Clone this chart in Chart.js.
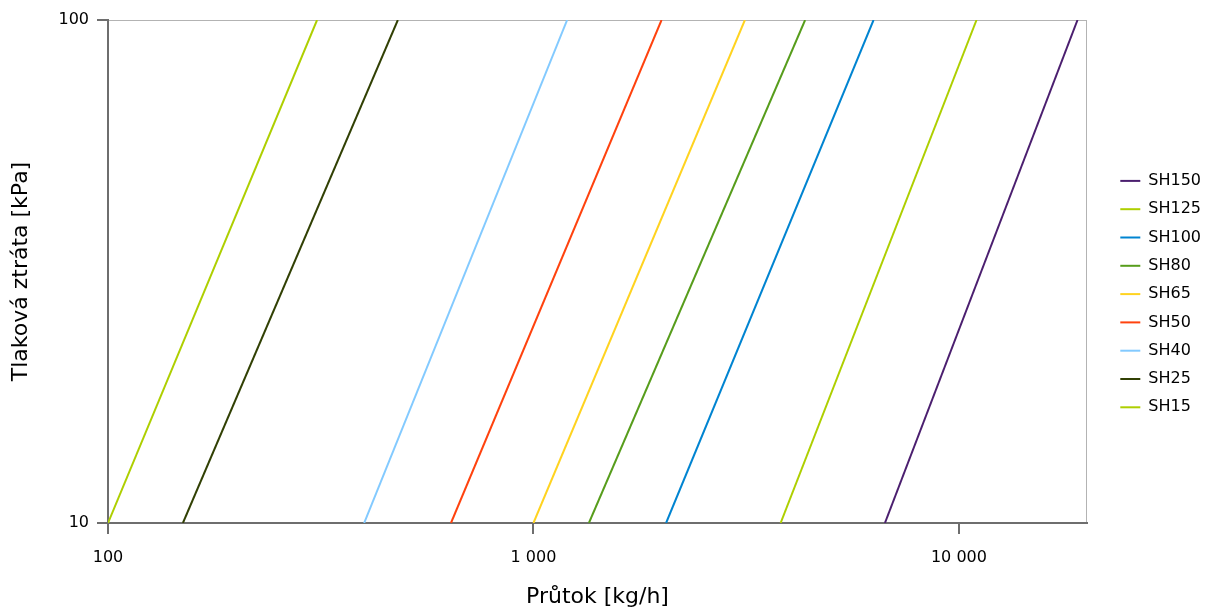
<!DOCTYPE html>
<html>
<head>
<meta charset="utf-8">
<script src="https://cdn.jsdelivr.net/npm/chart.js@4/dist/chart.umd.min.js"></script>
<style>
  body { margin: 0; background: #fff; }
</style>
</head>
<body>
<canvas id="chart" width="1205" height="610"></canvas>
<script>
// data (flow in kg/h at 10 kPa and at 100 kPa)
const series = ['SH15', 'SH25', 'SH40', 'SH50', 'SH65', 'SH80', 'SH100', 'SH125', 'SH150'];
const pressure = [10, 100];
const flowAt10 = [100, 150, 400, 640, 1000, 1350, 2050, 3810, 6700];
const flowAt100 = [310, 480, 1200, 2000, 3140, 4350, 6300, 11000, 19000];
const colors = ['#aecf00', '#314004', '#83caff', '#ff420e', '#ffd320', '#579d1c', '#0084d1', '#aecf00', '#4b1f6f'];
const xTicks = [100, 1000, 10000];
const yTicks = [10, 100];

const fmt = v => String(v).replace(/\B(?=(\d{3})+(?!\d))/g, ' ');
const font = 'DejaVu Sans';
const axisColor = '#6e6e6e';

const datasets = series.map((name, i) => ({
  label: name,
  data: [
    { x: flowAt10[i], y: pressure[0] },
    { x: flowAt100[i], y: pressure[1] }
  ],
  borderColor: colors[i],
  backgroundColor: colors[i],
  borderWidth: 2,
  pointRadius: 0,
  tension: 0
}));

const frame = {
  id: 'frame',
  beforeDraw(chart) {
    const { ctx, chartArea: a } = chart;
    ctx.save();
    ctx.strokeStyle = '#b3b3b3';
    ctx.lineWidth = 1;
    ctx.strokeRect(a.left + 0.5, a.top + 0.5, a.right - a.left - 1, a.bottom - a.top);
    ctx.restore();
  }
};

new Chart(document.getElementById('chart'), {
  type: 'line',
  data: { datasets },
  plugins: [frame],
  options: {
    responsive: false,
    animation: false,
    layout: { padding: { top: 20, right: 0, bottom: 0, left: 0 } },
    scales: {
      x: {
        type: 'logarithmic',
        min: 100,
        max: 20000,
        afterBuildTicks: s => { s.ticks = xTicks.map(v => ({ value: v })); },
        afterFit: s => { s.height = 87; },
        ticks: { callback: v => fmt(v), color: '#000', font: { family: font, size: 16 }, padding: 14, maxRotation: 0 },
        grid: { drawOnChartArea: false, drawTicks: true, tickLength: 11, color: axisColor, lineWidth: 2 },
        border: { color: axisColor, width: 2 },
        title: { display: true, text: 'Průtok [kg/h]', color: '#000', font: { family: font, size: 22 }, padding: { top: 0, bottom: 0 } }
      },
      y: {
        type: 'logarithmic',
        min: 10,
        max: 100,
        afterBuildTicks: s => { s.ticks = yTicks.map(v => ({ value: v })); },
        afterFit: s => { s.width = 108; },
        ticks: { callback: v => fmt(v), color: '#000', font: { family: font, size: 16 }, padding: 8 },
        grid: { drawOnChartArea: false, drawTicks: true, tickLength: 11, color: axisColor, lineWidth: 2 },
        border: { color: axisColor, width: 2 },
        title: { display: true, text: 'Tlaková ztráta [kPa]', color: '#000', font: { family: font, size: 22 }, padding: { top: 8, bottom: 0 } }
      },
      gap: {
        type: 'linear',
        position: 'right',
        display: true,
        afterFit: s => { s.width = 21; },
        ticks: { display: false },
        grid: { display: false, drawTicks: false },
        border: { display: false }
      }
    },
    plugins: {
      tooltip: { enabled: false },
      legend: {
        position: 'right',
        fullSize: false,
        reverse: true,
        maxWidth: 97,
        title: { display: true, text: ' ', font: { family: font, size: 16 }, padding: { top: 0, bottom: 26 } },
        labels: {
          usePointStyle: true,
          pointStyle: 'line',
          pointStyleWidth: 20,
          padding: 12.3,
          color: '#000',
          font: { family: font, size: 16 }
        }
      }
    }
  }
});
</script>
</body>
</html>
